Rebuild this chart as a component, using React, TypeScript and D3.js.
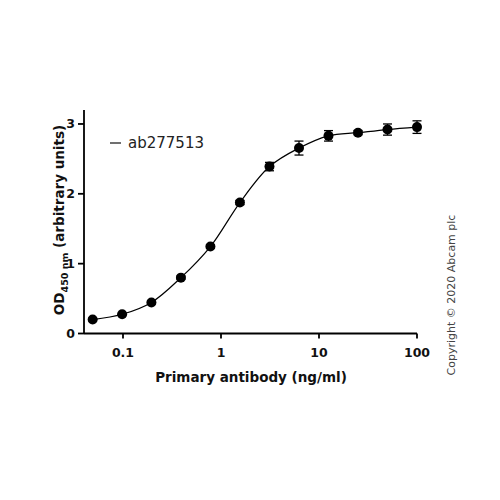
import * as d3 from "d3";

// concentrations (ng/ml), OD450 means and SD
const concentrations = [0.049, 0.098, 0.195, 0.39, 0.78, 1.56, 3.125, 6.25, 12.5, 25, 50, 100];
const odValues = [0.2, 0.275, 0.445, 0.8, 1.245, 1.875, 2.39, 2.655, 2.83, 2.875, 2.92, 2.955];
const odErrors = [0.01, 0.01, 0.01, 0.02, 0.02, 0.03, 0.06, 0.1, 0.075, 0.03, 0.08, 0.09];
const xTicks = [0.1, 1, 10, 100];
const xTickLabels = ["0.1", "1", "10", "100"];
const yTicks = [0, 1, 2, 3];
const seriesName = "ab277513";

export default function App() {
  const x = d3.scaleLog().domain([0.04, 100]).range([84, 417]);
  const y = d3.scaleLinear().domain([0, 3.2]).range([333.5, 110]);

  const points = concentrations.map((c, i) => ({ c, v: odValues[i], e: odErrors[i] }));

  const line = d3
    .line<{ c: number; v: number }>()
    .x((d) => x(d.c))
    .y((d) => y(d.v))
    .curve(d3.curveCatmullRom.alpha(0.5));

  const font = "'DejaVu Sans', sans-serif";

  return (
    <svg
      width={500}
      height={500}
      style={{ position: "absolute", left: 0, top: 0, background: "#fff" }}
      fontFamily={font}
    >
      {/* axes */}
      <line x1={x(0.04)} x2={x(100)} y1={y(0)} y2={y(0)} stroke="#000" strokeWidth={1.8} />
      <line x1={x(0.04)} x2={x(0.04)} y1={y(0)} y2={y(3.2)} stroke="#000" strokeWidth={1.8} />
      {xTicks.map((t, i) => (
        <g key={t}>
          <line x1={x(t)} x2={x(t)} y1={y(0)} y2={y(0) + 5} stroke="#000" strokeWidth={1.8} />
          <text x={x(t)} y={y(0) + 23} textAnchor="middle" fontSize={12.5} fontWeight="bold" fill="#111">
            {xTickLabels[i]}
          </text>
        </g>
      ))}
      {yTicks.map((t) => (
        <g key={t}>
          <line x1={x(0.04) - 6} x2={x(0.04)} y1={y(t)} y2={y(t)} stroke="#000" strokeWidth={1.8} />
          <text x={x(0.04) - 9} y={y(t)} dy="0.36em" textAnchor="end" fontSize={12.5} fontWeight="bold" fill="#111">
            {t}
          </text>
        </g>
      ))}

      {/* curve */}
      <path d={line(points) ?? ""} fill="none" stroke="#000" strokeWidth={1.2} />

      {/* error bars */}
      {points.map((p) => (
        <g key={"e" + p.c} stroke="#000" strokeWidth={1.3}>
          <line x1={x(p.c)} x2={x(p.c)} y1={y(p.v - p.e)} y2={y(p.v + p.e)} />
          <line x1={x(p.c) - 4.5} x2={x(p.c) + 4.5} y1={y(p.v - p.e)} y2={y(p.v - p.e)} />
          <line x1={x(p.c) - 4.5} x2={x(p.c) + 4.5} y1={y(p.v + p.e)} y2={y(p.v + p.e)} />
        </g>
      ))}

      {/* points */}
      {points.map((p) => (
        <circle key={"p" + p.c} cx={x(p.c)} cy={y(p.v)} r={5} fill="#000" />
      ))}

      {/* legend */}
      <line x1={110} x2={121} y1={143} y2={143} stroke="#222" strokeWidth={1.3} />
      <text x={128} y={143} dy="0.36em" fontSize={15} fill="#222">
        {seriesName}
      </text>

      {/* axis titles */}
      <text x={251} y={382} textAnchor="middle" fontSize={13.5} fontWeight="bold" fill="#111">
        Primary antibody (ng/ml)
      </text>
      <text
        transform="translate(64,220) rotate(-90)"
        textAnchor="middle"
        fontSize={13.5}
        fontWeight="bold"
        fill="#111"
      >
        OD
        <tspan fontSize={9.5} dy={4}>450 nm</tspan>
        <tspan dy={-4}> (arbitrary units)</tspan>
      </text>

      <text
        transform="translate(455,295) rotate(-90)"
        textAnchor="middle"
        fontSize={11}
        fill="#444"
      >
        Copyright © 2020 Abcam plc
      </text>
    </svg>
  );
}
